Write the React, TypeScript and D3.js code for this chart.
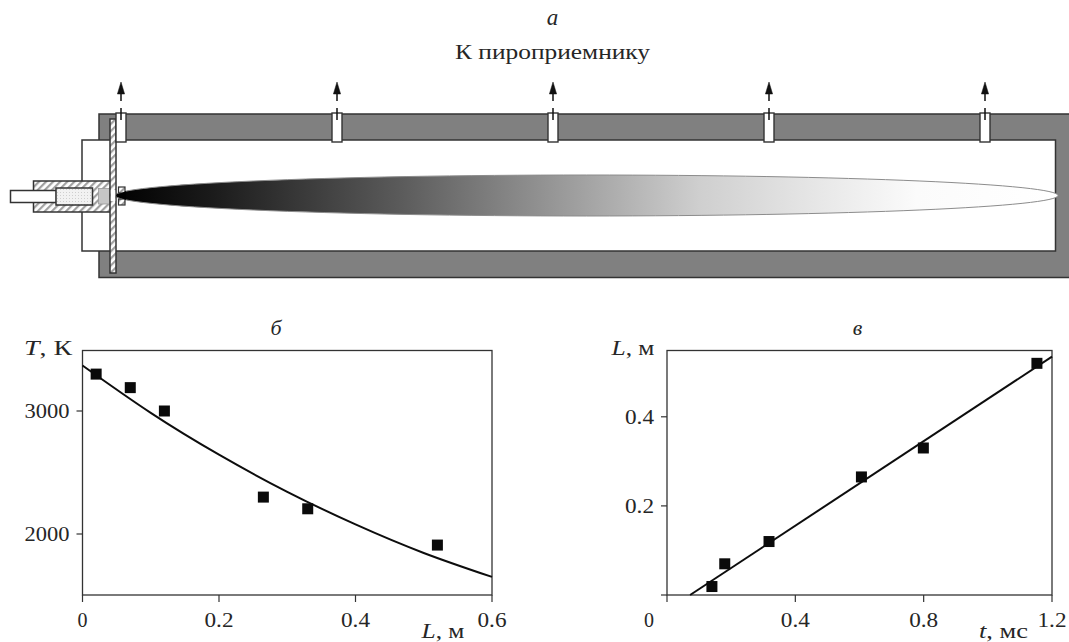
import React from "react";
import * as d3 from "d3";

// ---- panel б: temperature vs. distance
const tempPointL = [0.02, 0.07, 0.12, 0.265, 0.33, 0.52];
const tempPointT = [3300, 3190, 3000, 2300, 2205, 1910];
const tempCurveL = [0, 0.1, 0.2, 0.3, 0.4, 0.5, 0.6];
const tempCurveT = [3370, 2985, 2645, 2343, 2078, 1846, 1651];
const tempTicksX = [0, 0.2, 0.4, 0.6];
const tempTicksY = [2000, 3000];

// ---- panel в: distance vs. time
const distPointT = [0.14, 0.18, 0.318, 0.606, 0.799, 1.153];
const distPointL = [0.019, 0.07, 0.12, 0.265, 0.33, 0.52];
const distLineT = [0.072, 1.2];
const distLineL = [0, 0.535];
const distTicksX = [0, 0.4, 0.8, 1.2];
const distTicksY = [0, 0.2, 0.4];

// ---- panel а: probes along the chamber
const probeIndex = [0, 1, 2, 3, 4];

const FONT = "'Liberation Serif', serif";
const INK = "#262626";
const FRAME = "#333";

const label = (s: string) => ({
  textLength: s.length === 1 ? undefined : s.length === 3 ? 29 : 45,
  lengthAdjust: "spacingAndGlyphs",
});

function Plot({ x, y, ticksX, ticksY, fmtX, fmtY, line, pts }: any) {
  const [x0, x1] = x.range();
  const [y0, y1] = y.range();
  return (
    <g>
      <rect x={x0} y={y1} width={x1 - x0} height={y0 - y1} fill="none" stroke={FRAME} strokeWidth={1.3} />
      {ticksX.map((t: number) => (
        <g key={"x" + t}>
          <line x1={x(t)} x2={x(t)} y1={y0} y2={y0 + 7} stroke={FRAME} strokeWidth={1.2} />
          {fmtX(t) && (
            <text x={x(t)} y={627} textAnchor="middle" fontSize={20} fill={INK} {...label(fmtX(t))}>{fmtX(t)}</text>
          )}
        </g>
      ))}
      {ticksY.map((t: number) => (
        <g key={"y" + t}>
          <line x1={x0 - 6} x2={x0} y1={y(t)} y2={y(t)} stroke={FRAME} strokeWidth={1.2} />
          {fmtY(t) && (
            <text x={x0 - 13} y={y(t) + 7} textAnchor="end" fontSize={20} fill={INK} {...label(fmtY(t))}>{fmtY(t)}</text>
          )}
        </g>
      ))}
      <path d={line} fill="none" stroke="#0d0d0d" strokeWidth={2} />
      {pts.map((p: [number, number], i: number) => (
        <rect key={i} x={x(p[0]) - 5.5} y={y(p[1]) - 5.5} width={11} height={11} fill="#0a0a0a" />
      ))}
    </g>
  );
}

function Arrow({ cx }: { cx: number }) {
  return (
    <g stroke="#111" fill="#111">
      <path d={`M${cx},82 L${cx + 3.6},94 L${cx - 3.6},94 Z`} strokeWidth={0.5} />
      <line x1={cx} x2={cx} y1={93} y2={101} strokeWidth={1.5} />
      <line x1={cx} x2={cx} y1={108} y2={120} strokeWidth={1.5} />
    </g>
  );
}

function AxisName({ x, y, width, name, unit }: { x: number; y: number; width: number; name: string; unit: string }) {
  return (
    <text x={x} y={y} fontSize={20} fill={INK} textLength={width} lengthAdjust="spacingAndGlyphs">
      <tspan fontStyle="italic">{name}</tspan>, {unit}
    </text>
  );
}

export default function App() {
  // panel б scales
  const xT = d3.scaleLinear().domain([0, 0.6]).range([82.5, 492]);
  const yT = d3.scaleLinear().domain([2000, 3000]).range([534, 411]);
  const yTBottom = 595;
  const yTTop = 350.5;
  const yTPanel = d3.scaleLinear()
    .domain([yT.invert(yTBottom), yT.invert(yTTop)])
    .range([yTBottom, yTTop]);
  const tempLine = d3.line<number>()
    .x((d) => xT(d))
    .y((_, i) => yTPanel(tempCurveT[i]))
    .curve(d3.curveNatural)(tempCurveL) as string;

  // panel в scales
  const xD = d3.scaleLinear().domain([0, 1.2]).range([667, 1052]);
  const yD = d3.scaleLinear().domain([0, 0.5488]).range([595, 350.5]);
  const distLine = d3.line<number>()
    .x((d) => xD(d))
    .y((_, i) => yD(distLineL[i]))(distLineT) as string;

  // panel а
  const probeX = d3.scaleLinear().domain([0, 4]).range([121, 985]);
  const flame = { cx: 586.5, cy: 195.5, rx: 471.5, ry: 20.5 };

  return (
    <svg
      width={1069}
      height={642}
      viewBox="0 0 1069 642"
      style={{ position: "absolute", left: 0, top: 0, background: "#fff" }}
      fontFamily={FONT}
    >
      <defs>
        <linearGradient id="flameGrad" gradientUnits="userSpaceOnUse" x1={115} x2={1058} y1={0} y2={0}>
          <stop offset="0" stopColor="#000" />
          <stop offset="0.1" stopColor="#1a1a1a" />
          <stop offset="0.3" stopColor="#5a5a5a" />
          <stop offset="0.62" stopColor="#cfcfcf" />
          <stop offset="0.85" stopColor="#fbfbfb" />
          <stop offset="1" stopColor="#fff" />
        </linearGradient>
        <pattern id="hatch" width={5} height={5} patternUnits="userSpaceOnUse" patternTransform="rotate(45)">
          <rect width={5} height={5} fill="#fff" />
          <rect width={2.2} height={5} fill="#a0a0a0" />
        </pattern>
        <pattern id="dots" width={3} height={3} patternUnits="userSpaceOnUse">
          <rect width={3} height={3} fill="#f2f2f2" />
          <rect width={1} height={1} fill="#cfcfcf" />
        </pattern>
      </defs>

      {/* panel а */}
      <text x={552.5} y={25} textAnchor="middle" fontSize={23} fontStyle="italic" fill={INK}>a</text>
      <text x={552.5} y={59} textAnchor="middle" fontSize={21} textLength={195} lengthAdjust="spacingAndGlyphs" fill={INK}>К пироприемнику</text>

      <rect x={99} y={114} width={980} height={163.5} fill="#808080" stroke={FRAME} strokeWidth={1.5} />
      <rect x={82} y={140} width={973.5} height={111} fill="#fff" stroke={FRAME} strokeWidth={1.5} />

      {/* igniter */}
      <rect x={33.5} y={181} width={77} height={31} fill="url(#hatch)" stroke={FRAME} strokeWidth={1.5} />
      <rect x={10.5} y={190.5} width={46} height={12} fill="#fff" stroke={FRAME} strokeWidth={1.5} />
      <rect x={56} y={188} width={36.5} height={17} fill="url(#dots)" stroke={FRAME} strokeWidth={1.5} />
      <rect x={98.5} y={188.5} width={11} height={15.5} fill="#c6c6c6" stroke="#999" strokeWidth={0.8} />

      {/* flame */}
      <ellipse {...flame} fill="url(#flameGrad)" stroke="#8c8c8c" strokeWidth={1} />

      {/* plate */}
      <rect x={110} y={119} width={6} height={154} fill="url(#hatch)" stroke={FRAME} strokeWidth={1.5} />
      <rect x={110.8} y={190} width={4.4} height={11} fill="#fff" />

      {/* nozzle blocks */}
      <rect x={118.5} y={187} width={6.5} height={6} fill="url(#hatch)" stroke={FRAME} strokeWidth={1.2} />
      <rect x={118.5} y={199} width={6.5} height={6} fill="url(#hatch)" stroke={FRAME} strokeWidth={1.2} />
      <path d="M116,195.5 L126,191 L126,200 Z" fill="#000" />

      {/* probes */}
      {probeIndex.map((i) => (
        <g key={i}>
          <rect x={probeX(i) - 5} y={113} width={10} height={29} fill="#fff" stroke={FRAME} strokeWidth={1.4} />
          <Arrow cx={probeX(i)} />
        </g>
      ))}

      {/* panel б */}
      <text x={276} y={335} textAnchor="middle" fontSize={22} fontStyle="italic" fill={INK}>б</text>
      <AxisName x={24} y={355} width={48} name="T" unit=" К" />
      <Plot
        x={xT}
        y={yTPanel}
        ticksX={tempTicksX}
        ticksY={tempTicksY}
        fmtX={(t: number) => String(t)}
        fmtY={(t: number) => String(t)}
        line={tempLine}
        pts={tempPointL.map((d, i) => [d, tempPointT[i]])}
      />
      <AxisName x={421.5} y={638} width={43} name="L" unit="м" />

      {/* panel в */}
      <text x={857.5} y={335} textAnchor="middle" fontSize={22} fontStyle="italic" fill={INK}>в</text>
      <AxisName x={611.5} y={355} width={43} name="L" unit="м" />
      <Plot
        x={xD}
        y={yD}
        ticksX={distTicksX}
        ticksY={distTicksY}
        fmtX={(t: number) => (t === 0 ? "" : String(t))}
        fmtY={(t: number) => (t === 0 ? "" : String(t))}
        line={distLine}
        pts={distPointT.map((d, i) => [d, distPointL[i]])}
      />
      <text x={649} y={627} textAnchor="middle" fontSize={20} fill={INK}>0</text>
      <AxisName x={979} y={638} width={49} name="t" unit="мс" />
    </svg>
  );
}
